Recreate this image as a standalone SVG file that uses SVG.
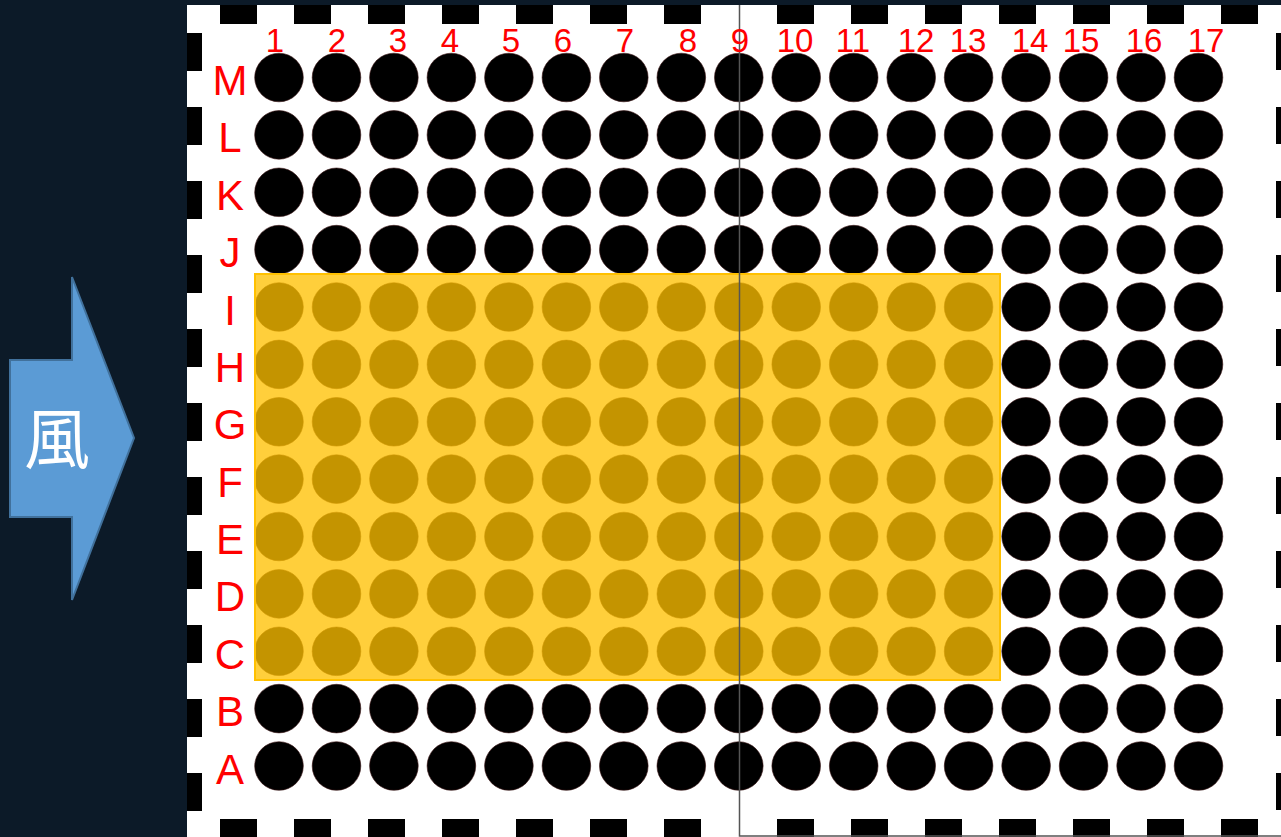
<svg xmlns="http://www.w3.org/2000/svg" xmlns:xlink="http://www.w3.org/1999/xlink" width="1281" height="837" viewBox="0 0 1281 837">
<style>
.dash{fill:#000}
.lbl{fill:#ff0000;font-family:"Liberation Sans",Arial,sans-serif;text-anchor:middle}
.col{font-size:33px}
.row{font-size:42px}
</style>
<defs>
<circle id="c" r="24.3" fill="#000" stroke="#3a1414" stroke-width="0.6"/>
<g id="r">
<use xlink:href="#c" x="279"/><use xlink:href="#c" x="336.5"/><use xlink:href="#c" x="393.9"/><use xlink:href="#c" x="451.4"/><use xlink:href="#c" x="508.9"/><use xlink:href="#c" x="566.4"/><use xlink:href="#c" x="623.8"/><use xlink:href="#c" x="681.3"/><use xlink:href="#c" x="738.8"/><use xlink:href="#c" x="796.2"/><use xlink:href="#c" x="853.7"/><use xlink:href="#c" x="911.2"/><use xlink:href="#c" x="968.6"/><use xlink:href="#c" x="1026.1"/><use xlink:href="#c" x="1083.6"/><use xlink:href="#c" x="1141.1"/><use xlink:href="#c" x="1198.5"/>
</g>
</defs>
<rect width="1281" height="837" fill="#0c1a28"/>
<rect x="187" y="5" width="1094" height="832" fill="#fff"/>
<g id="border-dashes">
<rect class="dash" x="220" y="5" width="37" height="19"/><rect class="dash" x="294" y="5" width="37" height="19"/><rect class="dash" x="368" y="5" width="37" height="19"/><rect class="dash" x="442" y="5" width="37" height="19"/><rect class="dash" x="516" y="5" width="37" height="19"/><rect class="dash" x="590" y="5" width="37" height="19"/><rect class="dash" x="664" y="5" width="37" height="19"/>
<rect class="dash" x="777" y="5" width="37" height="19"/><rect class="dash" x="851" y="5" width="37" height="19"/><rect class="dash" x="925" y="5" width="37" height="19"/><rect class="dash" x="999" y="5" width="37" height="19"/><rect class="dash" x="1073" y="5" width="37" height="19"/><rect class="dash" x="1147" y="5" width="37" height="19"/><rect class="dash" x="1221" y="5" width="37" height="19"/>
<rect class="dash" x="220" y="819" width="37" height="18"/><rect class="dash" x="294" y="819" width="37" height="18"/><rect class="dash" x="368" y="819" width="37" height="18"/><rect class="dash" x="442" y="819" width="37" height="18"/><rect class="dash" x="516" y="819" width="37" height="18"/><rect class="dash" x="590" y="819" width="37" height="18"/><rect class="dash" x="664" y="819" width="37" height="18"/>
<rect class="dash" x="777" y="819" width="37" height="18"/><rect class="dash" x="851" y="819" width="37" height="18"/><rect class="dash" x="925" y="819" width="37" height="18"/><rect class="dash" x="999" y="819" width="37" height="18"/><rect class="dash" x="1073" y="819" width="37" height="18"/><rect class="dash" x="1147" y="819" width="37" height="18"/><rect class="dash" x="1221" y="819" width="37" height="18"/>
<rect class="dash" x="187" y="33" width="15" height="38"/><rect class="dash" x="187" y="107" width="15" height="38"/><rect class="dash" x="187" y="181" width="15" height="38"/><rect class="dash" x="187" y="255" width="15" height="38"/><rect class="dash" x="187" y="329" width="15" height="38"/><rect class="dash" x="187" y="403" width="15" height="38"/><rect class="dash" x="187" y="477" width="15" height="38"/><rect class="dash" x="187" y="551" width="15" height="38"/><rect class="dash" x="187" y="625" width="15" height="38"/><rect class="dash" x="187" y="699" width="15" height="38"/><rect class="dash" x="187" y="773" width="15" height="38"/>
<rect class="dash" x="1276" y="33" width="5" height="37"/><rect class="dash" x="1276" y="107" width="5" height="37"/><rect class="dash" x="1276" y="181" width="5" height="37"/><rect class="dash" x="1276" y="255" width="5" height="37"/><rect class="dash" x="1276" y="329" width="5" height="37"/><rect class="dash" x="1276" y="403" width="5" height="37"/><rect class="dash" x="1276" y="477" width="5" height="37"/><rect class="dash" x="1276" y="551" width="5" height="37"/><rect class="dash" x="1276" y="625" width="5" height="37"/><rect class="dash" x="1276" y="699" width="5" height="37"/><rect class="dash" x="1276" y="773" width="5" height="37"/>
</g>
<g id="grid">
<use id="row-M" xlink:href="#r" y="77.5"/>
<use id="row-L" xlink:href="#r" y="134.9"/>
<use id="row-K" xlink:href="#r" y="192.3"/>
<use id="row-J" xlink:href="#r" y="249.6"/>
<use id="row-I" xlink:href="#r" y="307"/>
<use id="row-H" xlink:href="#r" y="364.4"/>
<use id="row-G" xlink:href="#r" y="421.8"/>
<use id="row-F" xlink:href="#r" y="479.1"/>
<use id="row-E" xlink:href="#r" y="536.5"/>
<use id="row-D" xlink:href="#r" y="593.9"/>
<use id="row-C" xlink:href="#r" y="651.3"/>
<use id="row-B" xlink:href="#r" y="708.6"/>
<use id="row-A" xlink:href="#r" y="766"/>
</g>
<g id="highlight">
<rect x="255" y="274" width="745" height="406" fill="#ffc000" fill-opacity="0.77" stroke="#ffc000" stroke-width="2"/>
</g>
<g id="divider" fill="none" stroke="#555" stroke-width="1.5">
<path d="M739.5 5 V836 H1281"/>
</g>
<g id="col-labels" class="lbl col">
<text x="275" y="52">1</text><text x="337" y="52">2</text><text x="398" y="52">3</text><text x="450" y="52">4</text><text x="511" y="52">5</text><text x="563" y="52">6</text><text x="625" y="52">7</text><text x="688" y="52">8</text><text x="740" y="52">9</text><text x="795" y="52">10</text><text x="853" y="52">11</text><text x="916" y="52">12</text><text x="968" y="52">13</text><text x="1030" y="52">14</text><text x="1081" y="52">15</text><text x="1144" y="52">16</text><text x="1206" y="52">17</text>
</g>
<g id="row-labels" class="lbl row">
<text x="230" y="95">M</text><text x="230" y="152.4">L</text><text x="230" y="209.8">K</text><text x="230" y="267.1">J</text><text x="230" y="324.5">I</text><text x="230" y="381.9">H</text><text x="230" y="439.3">G</text><text x="230" y="496.6">F</text><text x="230" y="554">E</text><text x="230" y="611.4">D</text><text x="230" y="668.8">C</text><text x="230" y="726.1">B</text><text x="230" y="783.5">A</text>
</g>
<g id="wind-arrow">
<polygon points="10,360 72,360 72,277 134,438 72,600 72,517 10,517" fill="#5b9bd5" stroke="#41719c" stroke-width="2"/>
<text x="57" y="434" dominant-baseline="central" text-anchor="middle" fill="#fff" font-size="66" font-family="'Noto Sans CJK JP','Noto Sans CJK TC',sans-serif">風</text>
</g>
</svg>
